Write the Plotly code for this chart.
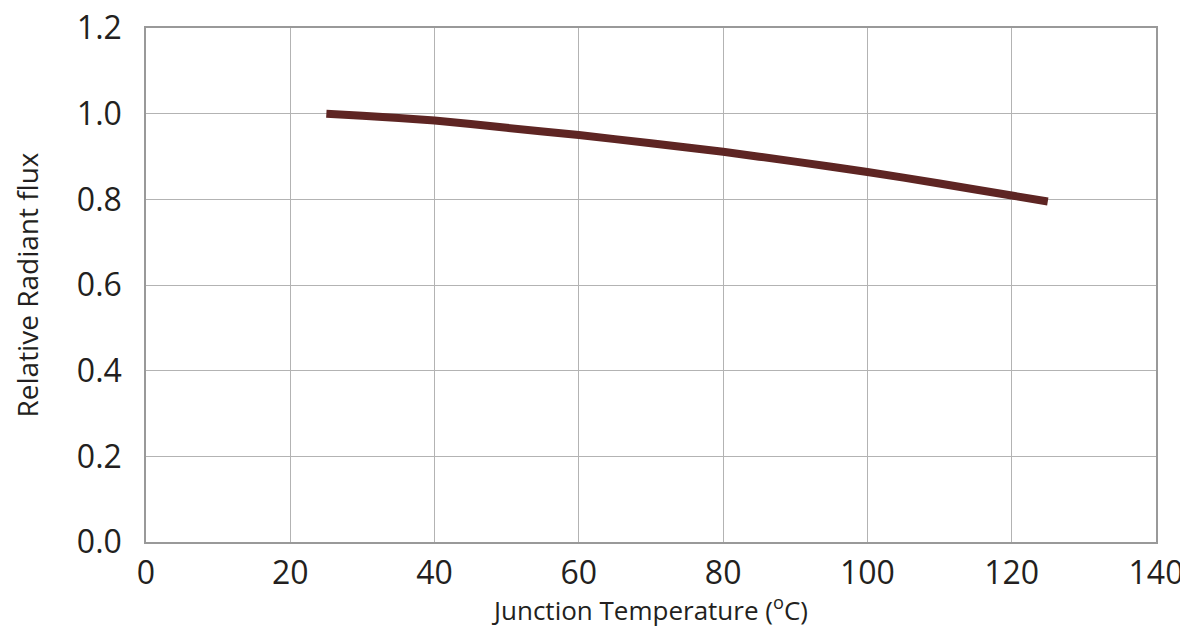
import plotly.graph_objects as go

temperature = [25, 30, 40, 50, 60, 70, 80, 90, 100, 110, 120, 125]
relative_flux = [1.0, 0.995, 0.984, 0.967, 0.950, 0.931, 0.911, 0.888, 0.864, 0.837, 0.809, 0.795]

x_ticks = [0, 20, 40, 60, 80, 100, 120, 140]
y_ticks = [0.0, 0.2, 0.4, 0.6, 0.8, 1.0, 1.2]
y_tick_labels = ["0.0", "0.2", "0.4", "0.6", "0.8", "1.0", "1.2"]

fig = go.Figure()
fig.add_trace(go.Scatter(
    x=temperature, y=relative_flux, mode="lines",
    line=dict(color="#5e2523", width=8, shape="spline", smoothing=0.4),
    showlegend=False,
))

font_family = "Open Sans, Liberation Sans, sans-serif"
fig.update_layout(
    width=1180, height=620,
    margin=dict(l=138, r=32, t=20, b=86),
    paper_bgcolor="white", plot_bgcolor="white",
    font=dict(family=font_family, color="#231f20"),
    xaxis=dict(
        range=[0, 140], tickvals=x_ticks, ticktext=[str(v) for v in x_ticks],
        showgrid=True, gridcolor="#b3b3b3", gridwidth=1,
        showline=True, linecolor="#999999", linewidth=1.5, mirror=True,
        zeroline=False, ticks="", tickfont=dict(size=32),
        ticklabelstandoff=2, automargin=False, ticklabeloverflow="allow",
        title=dict(text="Junction Temperature (<sup>o</sup>C)", font=dict(size=26), standoff=14),
    ),
    yaxis=dict(
        range=[0, 1.2], tickvals=y_ticks, ticktext=y_tick_labels,
        showgrid=True, gridcolor="#b3b3b3", gridwidth=1,
        showline=True, linecolor="#999999", linewidth=1.5, mirror=True,
        zeroline=False, ticks="", tickfont=dict(size=32),
        ticklabelstandoff=16, automargin=False, ticklabeloverflow="allow",
        title=dict(text="Relative Radiant flux", font=dict(size=28), standoff=52),
    ),
)

fig.write_html("out.html")
